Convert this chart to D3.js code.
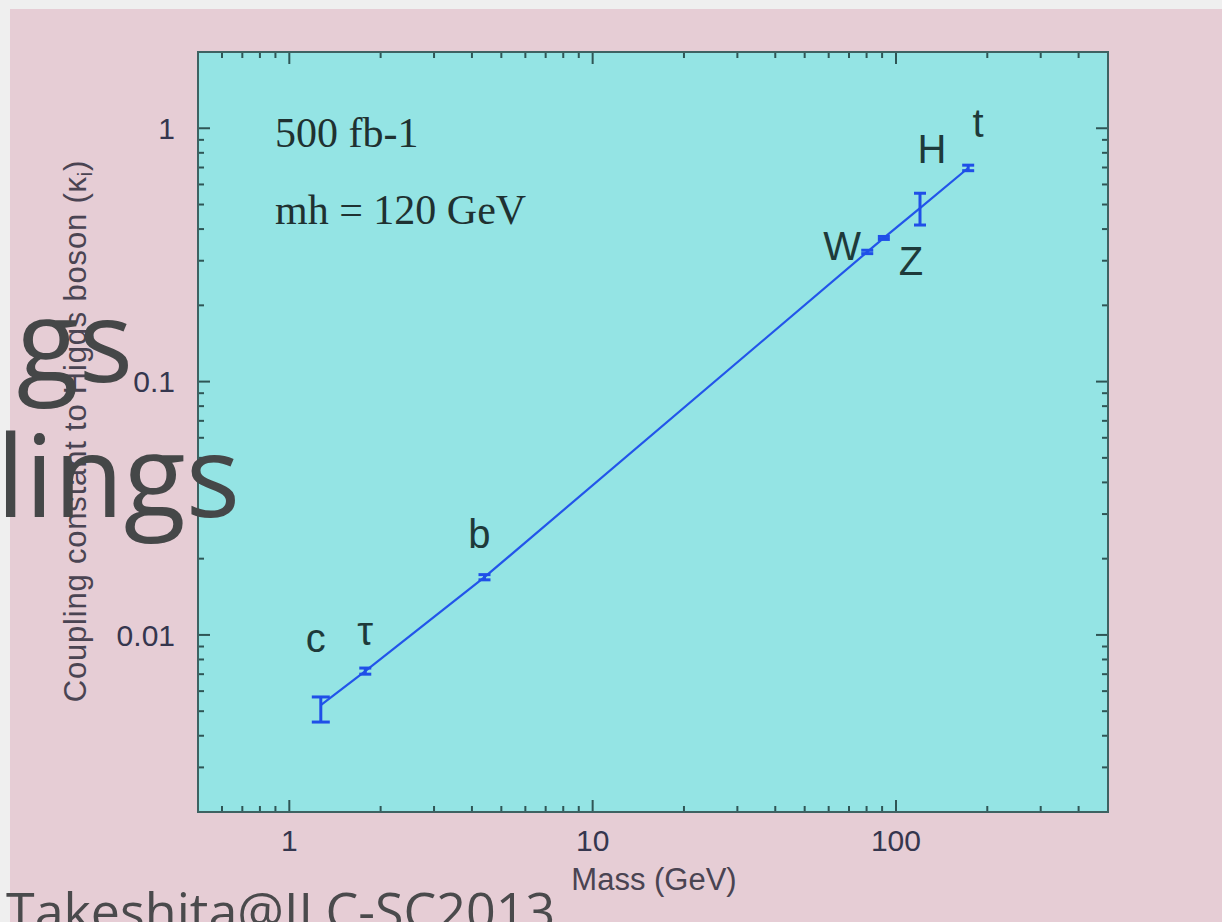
<!DOCTYPE html>
<html>
<head>
<meta charset="utf-8">
<script src="https://cdn.jsdelivr.net/npm/d3@7"></script>
<style>
  html, body { margin: 0; padding: 0; background: #efefef; overflow: hidden; }
  svg { display: block; }
</style>
</head>
<body>
<svg id="chart" width="1222" height="922"></svg>
<script>
'use strict'

// values (mass in GeV, coupling kappa_i)
var particles = ["c", "τ", "b", "W", "Z", "H", "t"]
var masses = [1.27, 1.78, 4.4, 80.4, 91.2, 120, 173]
var kappa = [0.00528, 0.0072, 0.0169, 0.325, 0.369, 0.484, 0.697]
var kappaLo = [0.00453, 0.0070, 0.0165, 0.320, 0.364, 0.415, 0.680]
var kappaHi = [0.00569, 0.0074, 0.0173, 0.330, 0.374, 0.554, 0.715]
var xTickLabels = [1, 10, 100]
var yTickLabels = [0.01, 0.1, 1]
var notes = ["500 fb-1", "mh = 120 GeV"]

var W = 1222, H = 922
var plot = { left: 198, right: 1108, top: 52, bottom: 812 }

var svg = d3.select("#chart")

// pink slide over the grey window
svg.append("rect")
  .attr("x", 10).attr("y", 9)
  .attr("width", W - 10).attr("height", H - 9)
  .attr("fill", "#e6cdd5")

var x = d3.scaleLog().domain([0.5, 500]).range([plot.left, plot.right])
var y = d3.scaleLog().domain([0.002, 2]).range([plot.bottom, plot.top])

svg.append("rect")
  .attr("x", plot.left).attr("y", plot.top)
  .attr("width", plot.right - plot.left)
  .attr("height", plot.bottom - plot.top)
  .attr("fill", "#94e4e4")

var isMajor = function(v) {
  var l = Math.log10(v)
  return Math.abs(l - Math.round(l)) < 1e-6
}

// ticks on all four sides, pointing in
var tickColor = "#2f5555"
var g = svg.append("g").attr("class", "ticks")
  .attr("stroke", tickColor).attr("stroke-width", 2)

x.ticks().forEach(function(v) {
  var len = isMajor(v) ? 12 : 6
  var px = x(v)
  g.append("line").attr("x1", px).attr("x2", px)
    .attr("y1", plot.bottom).attr("y2", plot.bottom - len)
  g.append("line").attr("x1", px).attr("x2", px)
    .attr("y1", plot.top).attr("y2", plot.top + len)
})

y.ticks().forEach(function(v) {
  var len = isMajor(v) ? 12 : 6
  var py = y(v)
  g.append("line").attr("y1", py).attr("y2", py)
    .attr("x1", plot.left).attr("x2", plot.left + len)
  g.append("line").attr("y1", py).attr("y2", py)
    .attr("x1", plot.right).attr("x2", plot.right - len)
})

svg.append("rect")
  .attr("x", plot.left).attr("y", plot.top)
  .attr("width", plot.right - plot.left)
  .attr("height", plot.bottom - plot.top)
  .attr("fill", "none")
  .attr("stroke", "#3e6262").attr("stroke-width", 2)

// tick labels
var labelFont = "Liberation Sans, Arial, sans-serif"
svg.append("g").selectAll("text").data(xTickLabels).join("text")
  .attr("x", function(d) { return x(d) })
  .attr("y", 851)
  .attr("text-anchor", "middle")
  .attr("font-family", labelFont).attr("font-size", 30)
  .attr("fill", "#35364e")
  .text(function(d) { return d })

svg.append("g").selectAll("text").data(yTickLabels).join("text")
  .attr("x", 175)
  .attr("y", function(d) { return y(d) })
  .attr("dy", "0.36em")
  .attr("text-anchor", "end")
  .attr("font-family", labelFont).attr("font-size", 30)
  .attr("fill", "#35364e")
  .text(function(d) { return d })

// axis titles
svg.append("text")
  .attr("x", 654).attr("y", 890)
  .attr("text-anchor", "middle")
  .attr("font-family", labelFont).attr("font-size", 31)
  .attr("fill", "#4a4452")
  .text("Mass (GeV)")

var yt = svg.append("text")
  .attr("transform", "translate(86,431) rotate(-90)")
  .attr("text-anchor", "middle")
  .attr("font-family", labelFont).attr("font-size", 31)
  .attr("letter-spacing", 0.8)
  .attr("fill", "#4a4452")
yt.append("tspan").text("Coupling constant to Higgs boson (κ")
yt.append("tspan").attr("font-size", 20).attr("dy", 6).text("i")
yt.append("tspan").attr("dy", -6).text(")")

// annotation text
svg.append("g").selectAll("text").data(notes).join("text")
  .attr("x", 275)
  .attr("y", function(d, i) { return 147 + i * 77 })
  .attr("font-family", "Liberation Serif, Times New Roman, serif")
  .attr("font-size", 42)
  .attr("fill", "#1f3131")
  .text(function(d) { return d })

// fit line through the points
var pts = masses.map(function(m, i) { return [x(m), y(kappa[i])] })
svg.append("path")
  .attr("d", d3.line()(pts))
  .attr("fill", "none")
  .attr("stroke", "#2255ea").attr("stroke-width", 2.2)

// error bars
var blue = "#1f4fe8"
var eb = svg.append("g").attr("stroke", blue).attr("stroke-width", 3)
masses.forEach(function(m, i) {
  var px = x(m)
  var cap = i === 0 ? 9 : 6
  eb.append("line").attr("x1", px).attr("x2", px)
    .attr("y1", y(kappaLo[i])).attr("y2", y(kappaHi[i]))
  eb.append("line").attr("x1", px - cap).attr("x2", px + cap)
    .attr("y1", y(kappaLo[i])).attr("y2", y(kappaLo[i]))
  eb.append("line").attr("x1", px - cap).attr("x2", px + cap)
    .attr("y1", y(kappaHi[i])).attr("y2", y(kappaHi[i]))
})

// particle names, nudged off their points
var nudge = [[-5, -53], [0, -26], [-5, -29], [-25, 8], [27, 37], [12, -45], [10, -31]]
svg.append("g").selectAll("text").data(particles).join("text")
  .attr("x", function(d, i) { return x(masses[i]) + nudge[i][0] })
  .attr("y", function(d, i) { return y(kappa[i]) + nudge[i][1] })
  .attr("text-anchor", "middle")
  .attr("font-family", labelFont).attr("font-size", 40)
  .attr("fill", "#1e3a3a")
  .text(function(d) { return d })

// slide title leftovers and footer, drawn over the figure
var slideFont = "Open Sans, Noto Sans, sans-serif"
svg.append("text")
  .attr("x", 133).attr("y", 382)
  .attr("text-anchor", "end")
  .attr("font-family", slideFont).attr("font-size", 114)
  .attr("fill", "#454748")
  .text("gs")
svg.append("text")
  .attr("x", 240).attr("y", 517)
  .attr("text-anchor", "end")
  .attr("font-family", slideFont).attr("font-size", 114)
  .attr("fill", "#454748")
  .text("lings")
svg.append("text")
  .attr("x", 6).attr("y", 930)
  .attr("font-family", slideFont).attr("font-size", 52)
  .attr("fill", "#4a4a4c")
  .text("Takeshita@ILC-SC2013")
</script>
</body>
</html>
